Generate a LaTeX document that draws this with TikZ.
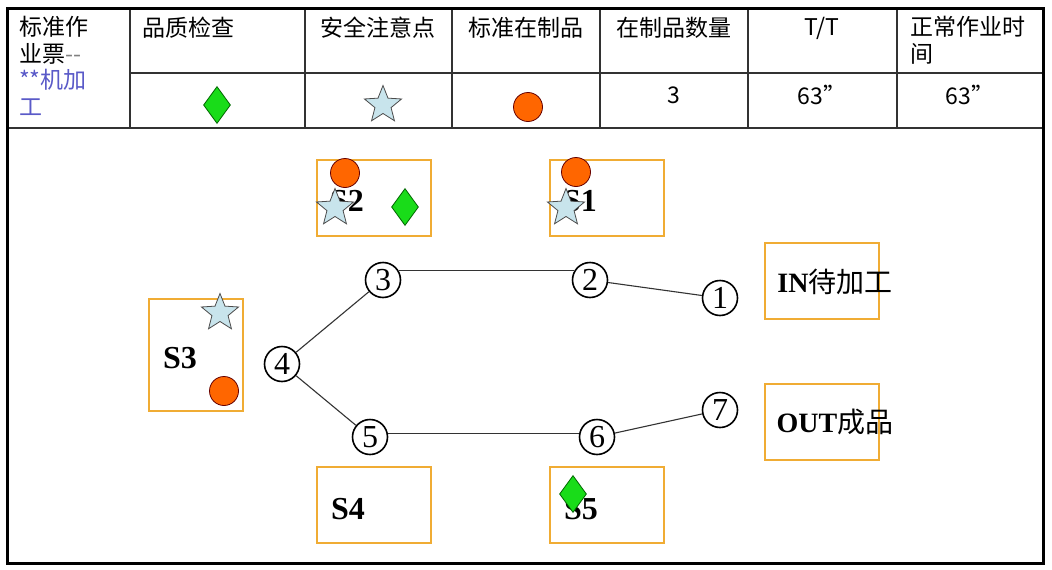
\documentclass[tikz,border=0pt]{standalone}
\usepackage{fontspec}
\setmainfont{Liberation Serif}
\newfontfamily\cjk{Noto Sans CJK SC}
\usetikzlibrary{shapes.geometric, positioning}
\definecolor{boxorange}{RGB}{240,172,52}
\definecolor{wipred}{RGB}{255,102,0}
\definecolor{checkgreen}{RGB}{25,220,25}
\definecolor{safeblue}{RGB}{200,228,236}
\definecolor{titleblue}{RGB}{90,90,200}
\definecolor{gridgray}{RGB}{50,50,50}

\tikzset{
  station/.style={draw=boxorange, line width=2pt, minimum width=114pt, minimum height=76pt, inner sep=0pt},
  stlabel/.style={font=\bfseries\fontsize{32}{32}\selectfont, inner sep=0pt},
  seqnum/.style={circle, draw, line width=1.6pt, minimum size=35pt, inner sep=0pt, font=\fontsize{32}{32}\selectfont},
  check/.style={diamond, draw=black!60!green, fill=checkgreen, line width=0.8pt, minimum width=27pt, minimum height=37pt, inner sep=0pt},
  safety/.style={star, star points=5, star point ratio=2.3, draw=black!70, fill=safeblue, minimum size=39pt, inner sep=0pt, line width=0.8pt},
  wip/.style={circle, draw=black!60!red, fill=wipred, minimum size=29pt, inner sep=0pt, line width=0.8pt},
  head/.style={font=\cjk\fontsize{23}{26.5}\selectfont, inner sep=0pt},
  link/.style={line width=1.1pt, black!80}
}

\begin{document}
\begin{tikzpicture}[x=1pt, y=-1pt]
  \useasboundingbox (0,0) rectangle (1052,570);
  \fill[white] (0,0) rectangle (1052,570);

  % table and frame
  \draw[gridgray, line width=1.4pt] (130,73) -- (1043,73);
  \draw[gridgray, line width=1.8pt] (7,128) -- (1043,128);
  \foreach \cx in {130,305,452,600,748,897}
    \draw[gridgray, line width=1.4pt] (\cx,8) -- (\cx,128);
  \draw[line width=3pt] (7,8) rectangle (1043,563);

  % header row
  \node[head, anchor=north west, align=left] (title) at (19,16)
    {标准作\\业票{\color{gray}--}\\{\color{titleblue}**机加}\\{\color{titleblue}工}};
  \node[head, anchor=west] (hcheck) at (142,28) {品质检查};
  \node[head] (hsafe) at (378,28) {安全注意点};
  \node[head] (hwip) at (526,28) {标准在制品};
  \node[head] (hqty) at (674,28) {在制品数量};
  \node[head] (htt) at (822,28) {T/T};
  \node[head, anchor=north west, align=left] (htime) at (910,16) {正常作业时\\间};

  % value row
  \node[check] (vcheck) at (217,105) {};
  \node[safety] (vsafe) at (383,105) {};
  \node[wip] (vwip) at (528,107) {};
  \node[head] (vqty) at (674,95) {3};
  \node[head] (vtt) at (822,95) {63”};
  \node[head] (vtime) at (970,95) {63”};

  % stations
  \node[station] (s2) at (373.5,197.5) {};
  \node[station] (s1) at (606.5,197.5) {};
  \node[station, minimum width=94pt, minimum height=112pt] (s3) at (196,355) {};
  \node[station] (s4) at (373.5,505) {};
  \node[station] (s5) at (606.5,505) {};
  \node[station] (inbox) at (821.5,281) {};
  \node[station] (outbox) at (821.5,421.5) {};

  \node[stlabel] (l2) at (347,201) {S2};
  \node[stlabel] (l1) at (580,201) {S1};
  \node[stlabel] (l3) at (180,358) {S3};
  \node[stlabel] (l4) at (348,509) {S4};
  \node[stlabel] (l5) at (581,509) {S5};
  \node[font=\bfseries\fontsize{28}{28}\selectfont, inner sep=0pt] (lin) at (835,282) {IN{\cjk\mdseries 待加工}};
  \node[font=\bfseries\fontsize{28}{28}\selectfont, inner sep=0pt] (lout) at (835,422) {OUT{\cjk\mdseries 成品}};

  % markers on stations
  \node[wip] (w2) at (345,173) {};
  \node[safety] (k2) at (335,208) {};
  \node[check] (c2) at (405,207) {};
  \node[wip] (w1) at (576,172) {};
  \node[safety] (k1) at (566,208) {};
  \node[safety] (k3) at (220,313) {};
  \node[wip] (w3) at (224,391) {};
  \node[check] (c5) at (573,494) {};

  % work sequence
  \node[seqnum] (n1) at (720,298) {1};
  \node[seqnum] (n2) at (590,280) {2};
  \node[seqnum] (n3) at (383,280) {3};
  \node[seqnum] (n4) at (282,364) {4};
  \node[seqnum] (n5) at (370,437) {5};
  \node[seqnum] (n6) at (597,437) {6};
  \node[seqnum] (n7) at (720,410) {7};

  \draw[link] (n3.30) -- (n2.150);
  \draw[link] (n2) -- (n1);
  \draw[link] (n3) -- (n4);
  \draw[link] (n4) -- (n5);
  \draw[link] (n5.10) -- (n6.170);
  \draw[link] (n6) -- (n7);
\end{tikzpicture}
\end{document}
